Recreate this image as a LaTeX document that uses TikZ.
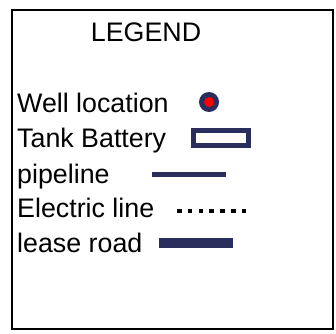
\documentclass[tikz,border=0pt]{standalone}
\usepackage{fontspec}
\setmainfont{Liberation Sans}
\definecolor{navy}{RGB}{42,46,92}
\begin{document}
\begin{tikzpicture}[x=1pt,y=1pt,
  lbl/.style={anchor=base west,inner sep=0pt,font=\fontsize{26.8}{30}\selectfont},
  navyline/.style={draw=navy,line cap=butt}]
\useasboundingbox (0,0) rectangle (336,333);
\fill[white] (0,0) rectangle (336,333);
\node[draw=black,line width=2pt,minimum width=321pt,minimum height=319pt,inner sep=0pt] (frame) at (172.5,163.5) {};
\node[lbl,anchor=base] (title) at (146,292) {LEGEND};
\node[lbl] (well) at (17,221) {Well location};
\node[lbl] (tank) at (17,186) {Tank Battery};
\node[lbl] (pipe) at (17,150) {pipeline};
\node[lbl] (elec) at (17,116) {Electric line};
\node[lbl] (road) at (17,81) {lease road};
% well symbol
\fill[navy] (209,231) circle (10);
\fill[red] (209,231) circle (5);
% tank battery
\draw[navy,line width=5pt] (193.5,187.5) rectangle (248.5,202.5);
% pipeline
\coordinate (p1) at (152,158.5);
\coordinate (p2) at (226,158.5);
\draw[navyline,line width=4.5pt] (p1) -- (p2);
% electric line
\coordinate (e1) at (177,122);
\coordinate (e2) at (247,122);
\draw[black,line width=4.5pt,dash pattern=on 4.5pt off 6.3pt] (e1) -- (e2);
% lease road
\coordinate (r1) at (159,90);
\coordinate (r2) at (233,90);
\draw[navyline,line width=10pt] (r1) -- (r2);
\end{tikzpicture}
\end{document}
